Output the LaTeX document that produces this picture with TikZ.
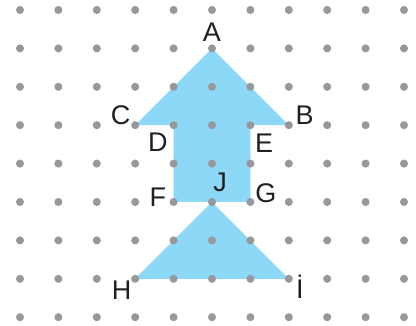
\documentclass[tikz,border=0pt]{standalone}
\usepackage{fontspec}
\setmainfont{Liberation Sans}
\usepackage{tikz}
\usetikzlibrary{positioning}

\definecolor{arrowblue}{RGB}{141,216,246}
\definecolor{dotgray}{RGB}{152,152,156}
\definecolor{lettergray}{RGB}{35,31,32}

\begin{document}
\begin{tikzpicture}[x=1cm, y=1cm,
      dot/.style={circle, fill=dotgray, inner sep=0pt, minimum size=2.1mm},
      lbl/.style={font=\fontsize{20}{22}\selectfont, text=lettergray, inner sep=0pt}]
    \useasboundingbox (-0.52,-0.217) rectangle (10.3125,8.26);
    % corners of the arrow and the triangle
    \coordinate (A) at (5,7);
    \coordinate (B) at (7,5);
    \coordinate (C) at (3,5);
    \coordinate (D) at (4,5);
    \coordinate (E) at (6,5);
    \coordinate (F) at (4,3);
    \coordinate (G) at (6,3);
    \coordinate (J) at (5,3);
    \coordinate (H) at (3,1);
    \coordinate (I) at (7,1);
    \fill[arrowblue] (A) -- (B) -- (E) -- (G) -- (F) -- (D) -- (C) -- cycle;
    \fill[arrowblue] (J) -- (I) -- (H) -- cycle;
    % dot grid
    \foreach \x in {0,...,10}
      \foreach \y in {0,...,8}
        \node[dot] (dot-\x-\y) at (\x,\y) {};
    % letters
    \node[lbl] (labA) at (5,7.43) {A};
    \node[lbl] (labB) at (7.41,5.26) {B};
    \node[lbl] (labC) at (2.62,5.26) {C};
    \node[lbl] (labD) at (3.59,4.56) {D};
    \node[lbl] (labE) at (6.36,4.53) {E};
    \node[lbl] (labF) at (3.59,3.13) {F};
    \node[lbl] (labG) at (6.40,3.22) {G};
    \node[lbl] (labJ) at (5.21,3.52) {J};
    \node[lbl] (labH) at (2.65,0.71) {H};
    \node[lbl] (labI) at (7.29,0.78) {İ};
  \end{tikzpicture}
\end{document}
